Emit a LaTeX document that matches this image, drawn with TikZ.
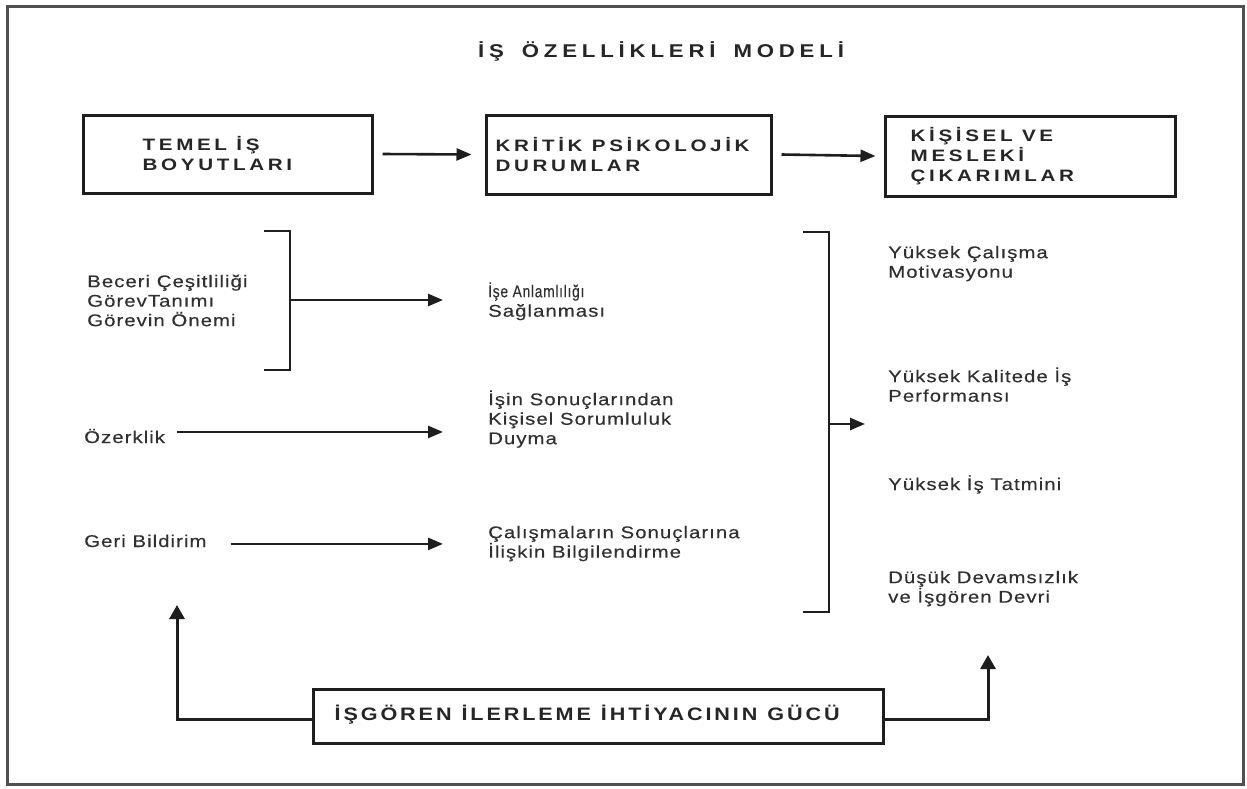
\documentclass[tikz,border=0pt]{standalone}
\usepackage{fontspec}
\usepackage{graphicx}
\setmainfont{Liberation Sans}
\newfontfamily\bodyf[LetterSpace=6,FakeStretch=1.2,FakeBold=0.25]{Liberation Sans}
\newfontfamily\headf[LetterSpace=22,FakeStretch=1.25]{Liberation Sans Bold}
\newfontfamily\titlef[LetterSpace=26,FakeStretch=1.2]{Liberation Sans Bold}
\newfontfamily\gucf[LetterSpace=16,FakeStretch=1.2]{Liberation Sans Bold}
\usetikzlibrary{arrows.meta,calc}
\definecolor{ink}{HTML}{1E1E1E}
\definecolor{txt}{HTML}{262626}
\definecolor{btxt}{HTML}{303030}
\definecolor{framec}{HTML}{505050}
\newcommand\firstline{\rule{0pt}{16pt}}
\newcommand\looselines{\lineskiplimit-20pt\relax}
\newcommand\wgap{\hspace{10pt}}
\newcommand\tgap{\hspace{18pt}}
\tikzset{
  box/.style={draw=ink, line width=3pt, inner sep=0pt, fill=white},
  head/.style={font={\headf\fontsize{16.5}{20}\selectfont\looselines}, align=left, inner sep=0pt, text=txt},
  body/.style={font={\bodyf\fontsize{17}{19.5}\selectfont\looselines}, align=left, inner sep=0pt, text=btxt},
  arr/.style={draw=ink, line width=2.6pt, -{Triangle[length=15pt,width=12pt]}},
  uparr/.style={draw=ink, line width=3pt, -{Triangle[length=14pt,width=15pt]}},
  brk/.style={draw=ink, line width=2.8pt, line join=miter},
  frame/.style={draw=framec, line width=3pt}
}
\begin{document}
\begin{tikzpicture}[x=1pt,y=-1pt]
\useasboundingbox (0,0) rectangle (1247,788);
\draw[frame] (7,6) rectangle (1243,784);

% title
\node[inner sep=0pt, text=txt, font={\titlef\fontsize{18.5}{20}\selectfont}] (title) at (661,51) {İŞ\tgap ÖZELLİKLERİ\tgap MODELİ};

% header boxes
\node[box, minimum width=289pt, minimum height=78pt] (b1) at (227.5,154) {};
\node[box, minimum width=285pt, minimum height=79pt] (b2) at (628.5,154.5) {};
\node[box, minimum width=290pt, minimum height=80pt] (b3) at (1030,156) {};
\node[head, anchor=west] (t1) at ([xshift=61pt]b1.west) {TEMEL İŞ\\BOYUTLARI};
\node[head, anchor=west] (t2) at ([xshift=11pt]b2.west) {KRİTİK PSİKOLOJİK\\DURUMLAR};
\node[head, anchor=west] (t3) at ([xshift=27pt]b3.west) {KİŞİSEL VE\\MESLEKİ\\ÇIKARIMLAR};
\draw[arr] ([xshift=9pt]b1.east) -- ([xshift=-13pt]b2.west);
\draw[arr] ([xshift=9pt]b2.east) -- ([xshift=-8pt]b3.west);

% left column
\node[body, anchor=north west] (beceri) at (87,271) {\firstline Beceri Çeşitliliği\\GörevTanımı\\Görevin Önemi};
\node[body, anchor=base west] (ozer) at (84,443) {Özerklik};
\node[body, anchor=base west] (geri) at (84,547) {Geri Bildirim};

% middle column
\node[body, anchor=north west] (anlam) at (488,281) {\firstline\scalebox{0.68}[1]{İşe Anlamlılığı}\\Sağlanması};
\node[body, anchor=north west] (sorum) at (488,389) {\firstline İşin Sonuçlarından\\Kişisel Sorumluluk\\Duyma};
\node[body, anchor=north west] (bilgi) at (488,522) {\firstline Çalışmaların Sonuçlarına\\İlişkin Bilgilendirme};

% right column
\node[body, anchor=north west] (motiv) at (888,242) {\firstline Yüksek Çalışma\\Motivasyonu};
\node[body, anchor=north west] (perf) at (888,366) {\firstline Yüksek Kalitede İş\\Performansı};
\node[body, anchor=base west] (tatmin) at (888,490) {Yüksek İş Tatmini};
\node[body, anchor=north west] (devam) at (888,567) {\firstline Düşük Devamsızlık\\ve İşgören Devri};

% bracket 1
\coordinate (br1t) at (264,231);
\coordinate (br1b) at (264,370);
\coordinate (br1m) at (290,300);
\draw[brk] (br1t) -- (br1t -| br1m) -- (br1b -| br1m) -- (br1b);
\draw[arr] (br1m) -- ([xshift=-45pt]br1m -| anlam.west);

% single arrows
\draw[arr] ([xshift=12pt,yshift=4pt]ozer.east) -- ([xshift=-45pt,yshift=4pt]ozer.east -| sorum.west);
\draw[arr] ([xshift=24pt,yshift=-3pt]geri.east) -- ([xshift=-45pt,yshift=-3pt]geri.east -| bilgi.west);

% bracket 2
\coordinate (br2t) at (803,232);
\coordinate (br2b) at (803,612);
\coordinate (br2m) at (829,424);
\draw[brk] (br2t) -- (br2t -| br2m) -- (br2b -| br2m) -- (br2b);
\draw[arr] (br2m) -- (865,424);

% bottom box
\node[box, minimum width=570pt, minimum height=54pt] (guc) at (598,716) {};
\node[inner sep=0pt, text=txt, font={\gucf\fontsize{18}{20}\selectfont}, anchor=west] (guct) at ([xshift=23pt,yshift=1pt]guc.west) {İŞGÖREN\wgap İLERLEME\wgap İHTİYACININ\wgap GÜCÜ};
\coordinate (upL) at (177,605);
\coordinate (upR) at (988,655);
\draw[uparr] ([yshift=-3.5pt]guc.west) -| (upL);
\draw[uparr] ([yshift=-3.5pt]guc.east) -| (upR);
\end{tikzpicture}
\end{document}
